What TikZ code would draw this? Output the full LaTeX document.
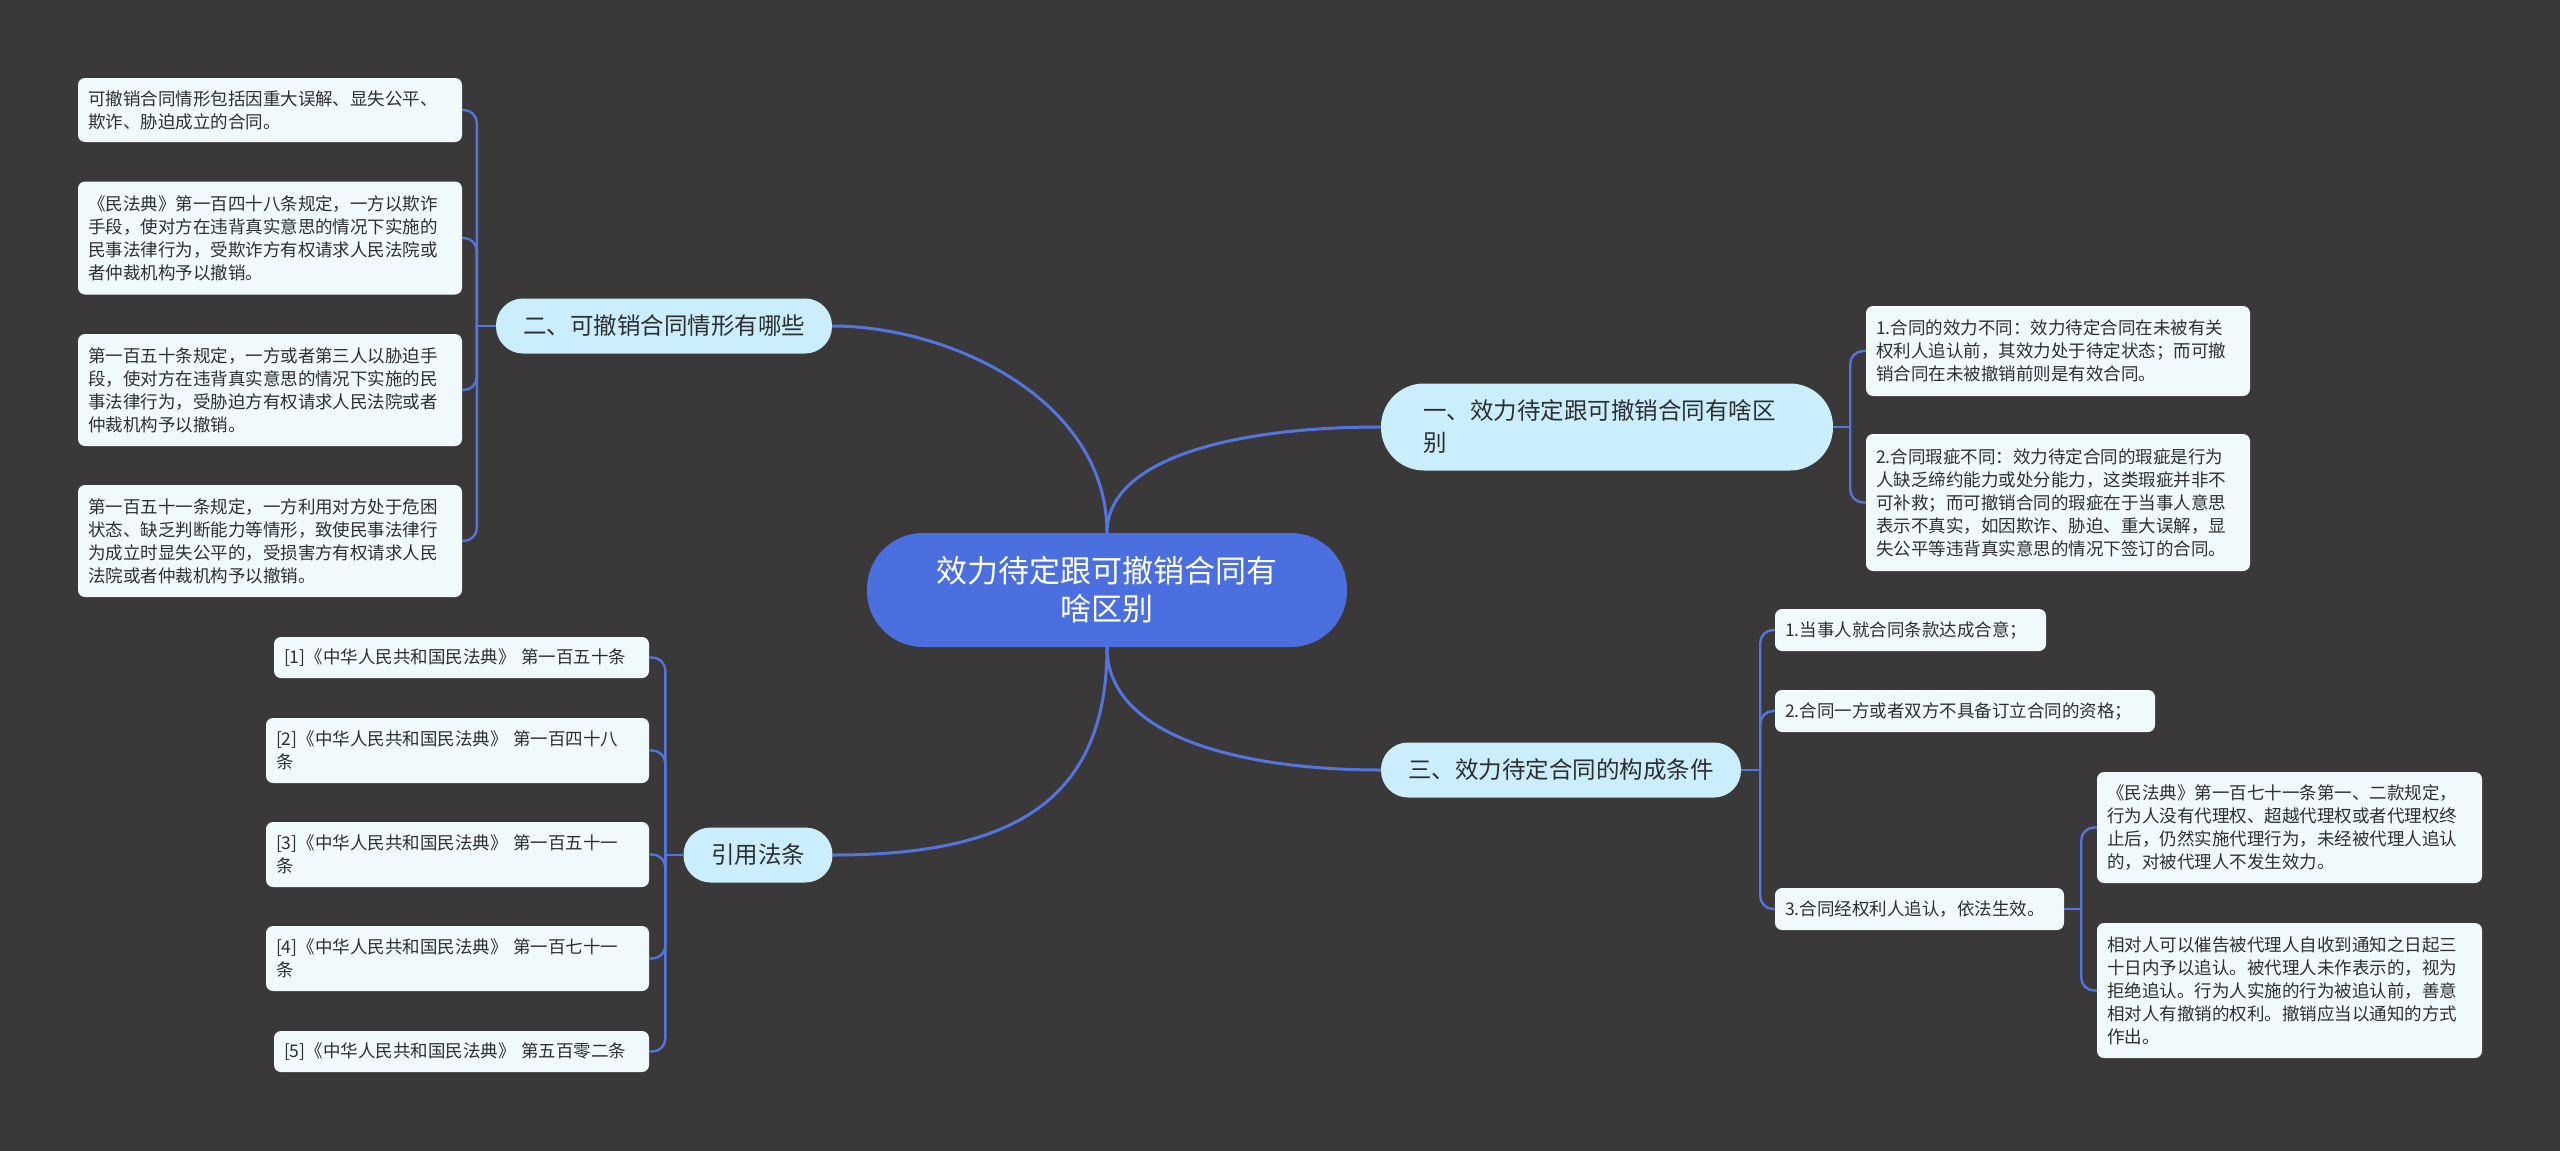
\documentclass[tikz,border=0pt]{standalone}
\usepackage{fontspec}
\setmainfont{Noto Sans CJK SC}
\usetikzlibrary{positioning}
\definecolor{bgGrey}{HTML}{3A3839}
\definecolor{rootBlue}{HTML}{4C6FDF}
\definecolor{lineBlue}{HTML}{5575DE}
\definecolor{branchCyan}{HTML}{CAEEFC}
\definecolor{leafWhite}{HTML}{F0FAFD}
\definecolor{inkGrey}{HTML}{2E2E2E}

\begin{document}
\begin{tikzpicture}[x=1pt,y=-1pt,
  root/.style={fill=rootBlue,text=white,rounded corners=56pt,minimum width=480pt,minimum height=114pt,inner sep=0pt,align=center,font=\fontsize{31}{38}\selectfont},
  branch/.style={fill=branchCyan,text=inkGrey,rounded corners=27pt,minimum height=55pt,inner sep=0pt,align=center,font=\fontsize{23.5}{32}\selectfont},
  leaf/.style={fill=leafWhite,text=inkGrey,rounded corners=7pt,inner xsep=10pt,inner ysep=0pt,text width=364pt,align=left,font=\fontsize{17.5}{23}\selectfont},
  link/.style={draw=lineBlue,line width=3pt},
  twig/.style={draw=lineBlue,line width=2.4pt,rounded corners=13pt}]
\useasboundingbox (0,0) rectangle (2560,1151);
\fill[bgGrey] (0,0) rectangle (2560,1151);

% centre and main branches
\node[root] (root) at (1107,590) {效力待定跟可撤销合同有\\啥区别};
\node[branch,minimum width=336pt] (b2) at (664,326) {二、可撤销合同情形有哪些};
\node[branch,minimum width=149pt] (b4) at (758,855) {引用法条};
\node[branch,minimum width=452pt,minimum height=87pt,rounded corners=43pt,text width=368pt,align=left] (b1) at (1607,427) {一、效力待定跟可撤销合同有啥区\\别};
\node[branch,minimum width=360pt] (b3) at (1561,770) {三、效力待定合同的构成条件};

% left: 二
\node[leaf,minimum height=64pt] (l1) at (270,110) {可撤销合同情形包括因重大误解、显失公平、\\欺诈、胁迫成立的合同。};
\node[leaf,minimum height=113pt] (l2) at (270,238) {《民法典》第一百四十八条规定，一方以欺诈\\手段，使对方在违背真实意思的情况下实施的\\民事法律行为，受欺诈方有权请求人民法院或\\者仲裁机构予以撤销。};
\node[leaf,minimum height=112pt] (l3) at (270,390) {第一百五十条规定，一方或者第三人以胁迫手\\段，使对方在违背真实意思的情况下实施的民\\事法律行为，受胁迫方有权请求人民法院或者\\仲裁机构予以撤销。};
\node[leaf,minimum height=112pt] (l4) at (270,541) {第一百五十一条规定，一方利用对方处于危困\\状态、缺乏判断能力等情形，致使民事法律行\\为成立时显失公平的，受损害方有权请求人民\\法院或者仲裁机构予以撤销。};

% left: 引用法条
\node[leaf,text width=355pt,minimum height=41pt] (r1) at (461.5,657.5) {[1]《中华人民共和国民法典》 第一百五十条};
\node[leaf,text width=363pt,minimum height=65pt] (r2) at (457.5,750.5) {[2]《中华人民共和国民法典》 第一百四十八\\条};
\node[leaf,text width=363pt,minimum height=65pt] (r3) at (457.5,854.5) {[3]《中华人民共和国民法典》 第一百五十一\\条};
\node[leaf,text width=363pt,minimum height=65pt] (r4) at (457.5,958.5) {[4]《中华人民共和国民法典》 第一百七十一\\条};
\node[leaf,text width=355pt,minimum height=41pt] (r5) at (461.5,1051.5) {[5]《中华人民共和国民法典》 第五百零二条};

% right: 一
\node[leaf,minimum height=90pt] (ra1) at (2058,351) {1.合同的效力不同：效力待定合同在未被有关\\权利人追认前，其效力处于待定状态；而可撤\\销合同在未被撤销前则是有效合同。};
\node[leaf,minimum height=137pt] (ra2) at (2058,502.5) {2.合同瑕疵不同：效力待定合同的瑕疵是行为\\人缺乏缔约能力或处分能力，这类瑕疵并非不\\可补救；而可撤销合同的瑕疵在于当事人意思\\表示不真实，如因欺诈、胁迫、重大误解，显\\失公平等违背真实意思的情况下签订的合同。};

% right: 三
\node[leaf,text width=251pt,minimum height=42pt] (t1) at (1910.5,630) {1.当事人就合同条款达成合意；};
\node[leaf,text width=360pt,minimum height=42pt] (t2) at (1965,711) {2.合同一方或者双方不具备订立合同的资格；};
\node[leaf,text width=269pt,minimum height=42pt] (t3) at (1919.5,909) {3.合同经权利人追认，依法生效。};
\node[leaf,text width=365pt,minimum height=111pt] (s1) at (2289.5,827.5) {《民法典》第一百七十一条第一、二款规定，\\行为人没有代理权、超越代理权或者代理权终\\止后，仍然实施代理行为，未经被代理人追认\\的，对被代理人不发生效力。};
\node[leaf,text width=365pt,minimum height=135pt] (s2) at (2289.5,990.5) {相对人可以催告被代理人自收到通知之日起三\\十日内予以追认。被代理人未作表示的，视为\\拒绝追认。行为人实施的行为被追认前，善意\\相对人有撤销的权利。撤销应当以通知的方式\\作出。};

% curves from the centre
\draw[link] (root.north) .. controls +(0,-133) and +(118,0) .. (b2.east);
\draw[link] (root.north) .. controls +(0,-73) and +(-151,0) .. (b1.west);
\draw[link] (root.south) .. controls +(0,163) and +(167,0) .. (b4.east);
\draw[link] (root.south) .. controls +(0,93) and +(-131,0) .. (b3.west);

% brackets
\coordinate (k2) at ([xshift=-19pt]b2.west);
\coordinate (k4) at ([xshift=-18pt]b4.west);
\coordinate (k1) at ([xshift=17pt]b1.east);
\coordinate (k3) at ([xshift=19pt]b3.east);
\coordinate (k5) at ([xshift=17pt]t3.east);
\draw[twig] (b2.west) -- (k2);
\foreach \n in {l1,l2,l3,l4} \draw[twig] (k2) |- (\n.east);
\draw[twig] (b4.west) -- (k4);
\foreach \n in {r1,r2,r3,r4,r5} \draw[twig] (k4) |- (\n.east);
\draw[twig] (b1.east) -- (k1);
\foreach \n in {ra1,ra2} \draw[twig] (k1) |- (\n.west);
\draw[twig] (b3.east) -- (k3);
\foreach \n in {t1,t2,t3} \draw[twig] (k3) |- (\n.west);
\draw[twig] (t3.east) -- (k5);
\foreach \n in {s1,s2} \draw[twig] (k5) |- (\n.west);
\end{tikzpicture}
\end{document}
